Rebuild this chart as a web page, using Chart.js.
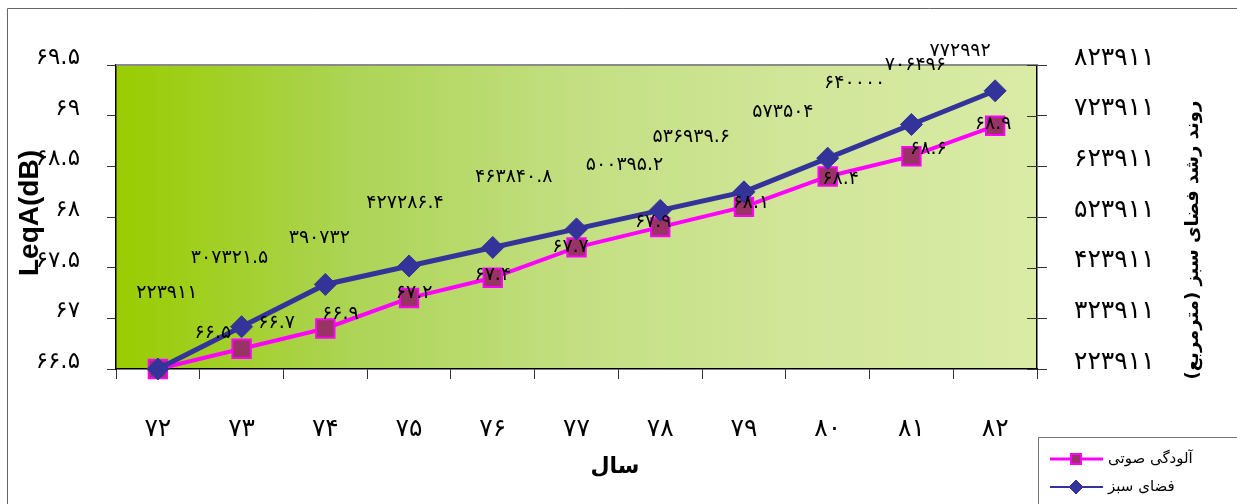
<!DOCTYPE html>
<html lang="fa">
<head>
<meta charset="utf-8">
<title>LeqA و فضای سبز</title>
<script src="https://cdn.jsdelivr.net/npm/chart.js@4.4.0/dist/chart.umd.min.js"></script>
<style>
  html, body { margin: 0; padding: 0; background: #fff; }
  #wrap { width: 1237px; height: 504px; }
</style>
</head>
<body>
<div id="wrap"><canvas id="chart" width="1237" height="504"></canvas></div>
<script>
// Noise level (LeqA) vs. green space growth, years 72-82

const years = [72, 73, 74, 75, 76, 77, 78, 79, 80, 81, 82];
const noiseLevel = [66.5, 66.7, 66.9, 67.2, 67.4, 67.7, 67.9, 68.1, 68.4, 68.6, 68.9];
const greenSpace = [223911, 307321.5, 390732, 427286.4, 463840.8, 500395.2, 536939.6, 573504, 640000, 706496, 772992];

const noiseTicks = { min: 66.5, max: 69.5, step: 0.5 };
const greenTicks = { min: 223911, max: 823911, step: 100000 };

const seriesNames = ['آلودگی صوتی', 'فضای سبز'];
const xTitle = 'سال';
const leftTitle = 'LeqA(dB)';
const rightTitle = 'روند رشد فضای سبز (مترمربع)';

// where each value label sits relative to its point (px), as in the original
const noiseLabelShift = [[55, -36], [35, -26], [15, -14], [5, -5], [0, -3], [-6, 0], [-7, -5], [7, -4], [13, 3], [17, -7], [-2, -2]];
const greenLabelShift = [[9, -76], [-12, -69], [-6, -46], [-4, -63], [21, -70], [48, -64], [31, -73], [39, -80], [27, -75], [4, -59], [-35, -40]];

const FONT = '"DejaVu Sans", sans-serif';
const faDigits = '۰۱۲۳۴۵۶۷۸۹';

// swap latin digits for persian ones
function toFa(v) {
  return String(v).replace(/\d/g, (d) => faDigits[d]);
}

/**
 * Gradient plot background and the thin outer frame.
 */
const plotBackground = {
  id: 'plotBackground',
  beforeDraw(chart) {
    const { ctx, chartArea: a } = chart;
    ctx.save();
    ctx.strokeStyle = '#666';
    ctx.lineWidth = 1;
    ctx.beginPath();
    ctx.moveTo(7.5, 504);
    ctx.lineTo(7.5, 8.5);
    ctx.lineTo(1237, 8.5);
    ctx.stroke();

    const g = ctx.createLinearGradient(a.left, 0, a.right, 0);
    g.addColorStop(0, '#99cc00');
    g.addColorStop(0.25, '#acd454');
    g.addColorStop(0.5, '#c3df82');
    g.addColorStop(0.75, '#d2e69a');
    g.addColorStop(1, '#d9eba5');
    ctx.fillStyle = g;
    ctx.fillRect(a.left, a.top, a.right - a.left, a.bottom - a.top);
    ctx.restore();
  },
  beforeDatasetsDraw(chart) {
    const { ctx, chartArea: a } = chart;
    ctx.save();
    // grey top edge of the plot
    ctx.strokeStyle = '#8a8a8a';
    ctx.lineWidth = 2;
    ctx.beginPath();
    ctx.moveTo(a.left, a.top);
    ctx.lineTo(a.right, a.top);
    ctx.stroke();
    // right axis ticks also cross into the plot
    const y1 = chart.scales.y1;
    ctx.strokeStyle = '#333';
    ctx.lineWidth = 1;
    y1.ticks.forEach((t) => {
      const y = Math.round(y1.getPixelForValue(t.value)) + 0.5;
      ctx.beginPath();
      ctx.moveTo(a.right - 10, y);
      ctx.lineTo(a.right, y);
      ctx.stroke();
    });
    ctx.restore();
  },
};

/**
 * Value labels next to each point.
 */
const valueLabels = {
  id: 'valueLabels',
  afterDatasetsDraw(chart) {
    const { ctx } = chart;
    ctx.save();
    ctx.fillStyle = '#000';
    ctx.textAlign = 'center';
    ctx.textBaseline = 'middle';
    ctx.font = '19px ' + FONT;
    const shifts = [noiseLabelShift, greenLabelShift];
    chart.data.datasets.forEach((ds, i) => {
      const meta = chart.getDatasetMeta(i);
      meta.data.forEach((pt, j) => {
        const [dx, dy] = shifts[i][j];
        ctx.fillText(toFa(ds.data[j]), pt.x + dx, pt.y + dy);
      });
    });
    ctx.restore();
  },
};

/**
 * Axis titles and the boxed legend at the bottom right.
 */
const titlesAndLegend = {
  id: 'titlesAndLegend',
  afterDraw(chart) {
    const { ctx } = chart;
    ctx.save();
    ctx.fillStyle = '#000';
    ctx.textAlign = 'center';
    ctx.textBaseline = 'middle';

    ctx.font = 'bold 22px ' + FONT;
    ctx.fillText(xTitle, 615, 467);

    ctx.save();
    ctx.translate(30, 213);
    ctx.rotate(-Math.PI / 2);
    ctx.font = 'bold 28px "Liberation Sans", Arial, sans-serif';
    ctx.fillText(leftTitle, 0, 0);
    ctx.restore();

    ctx.save();
    ctx.translate(1193, 240);
    ctx.rotate(-Math.PI / 2);
    ctx.direction = 'rtl';
    ctx.font = 'bold 18px ' + FONT;
    ctx.fillText(rightTitle, 0, 0);
    ctx.restore();

    // legend
    ctx.strokeStyle = '#777';
    ctx.lineWidth = 1;
    ctx.strokeRect(1038.5, 437.5, 220, 80);
    ctx.font = '15px ' + FONT;
    ctx.textAlign = 'left';
    chart.data.datasets.forEach((ds, i) => {
      const y = 459 + i * 28;
      ctx.strokeStyle = ds.borderColor;
      ctx.lineWidth = i === 0 ? 3 : 2;
      ctx.beginPath();
      ctx.moveTo(1050, y);
      ctx.lineTo(1103, y);
      ctx.stroke();
      ctx.fillStyle = ds.pointBackgroundColor;
      ctx.strokeStyle = ds.pointBorderColor;
      ctx.lineWidth = ds.pointBorderWidth;
      Chart.helpers.drawPoint(ctx, {
        pointStyle: ds.pointStyle,
        radius: 7,
        rotation: 0,
        borderWidth: ds.pointBorderWidth,
      }, 1076, y);
      ctx.fillStyle = '#000';
      ctx.fillText(ds.label, 1108, y);
    });
    ctx.restore();
  },
};

const ctx = document.getElementById('chart').getContext('2d');

new Chart(ctx, {
  type: 'line',
  data: {
    labels: years.map(toFa),
    datasets: [
      {
        label: seriesNames[0],
        data: noiseLevel,
        yAxisID: 'y',
        order: 1,
        borderColor: '#ff00ff',
        borderWidth: 4,
        pointStyle: 'rect',
        pointRadius: 13,
        pointBackgroundColor: '#993366',
        pointBorderColor: '#ff00ff',
        pointBorderWidth: 2,
        tension: 0,
        clip: false,
      },
      {
        label: seriesNames[1],
        data: greenSpace,
        yAxisID: 'y1',
        order: 0,
        borderColor: '#333399',
        borderWidth: 5,
        pointStyle: 'rectRot',
        pointRadius: 11,
        pointBackgroundColor: '#333399',
        pointBorderColor: '#333399',
        pointBorderWidth: 1,
        tension: 0,
        clip: false,
      },
    ],
  },
  options: {
    responsive: false,
    animation: false,
    layout: { padding: { top: 65, left: 0, right: 0, bottom: 0 } },
    plugins: {
      legend: { display: false },
      tooltip: { enabled: false },
    },
    scales: {
      x: {
        offset: true,
        afterFit(scale) { scale.height = 135; },
        border: { color: '#000', width: 1.5 },
        grid: { offset: true, drawOnChartArea: false, drawTicks: true, tickLength: 10, color: '#333' },
        ticks: { color: '#000', font: { family: FONT, size: 25 }, padding: 35, maxRotation: 0 },
      },
      y: {
        position: 'left',
        min: noiseTicks.min,
        max: noiseTicks.max,
        afterFit(scale) { scale.width = 116; },
        border: { color: '#000', width: 1.5 },
        grid: { drawOnChartArea: false, tickLength: 9, color: '#333' },
        ticks: {
          stepSize: noiseTicks.step,
          color: '#000',
          font: { family: FONT, size: 23 },
          padding: 27,
          labelOffset: -7,
          callback: (v) => toFa(v),
        },
      },
      y1: {
        position: 'right',
        min: greenTicks.min,
        max: greenTicks.max,
        afterFit(scale) { scale.width = 200; },
        border: { color: '#000', width: 1.5 },
        grid: { drawOnChartArea: false, tickLength: 10, color: '#333' },
        ticks: {
          stepSize: greenTicks.step,
          color: '#000',
          font: { family: FONT, size: 25 },
          padding: 27,
          labelOffset: -7,
          callback: (v) => toFa(v),
        },
      },
    },
  },
  plugins: [plotBackground, valueLabels, titlesAndLegend],
});
</script>
</body>
</html>
